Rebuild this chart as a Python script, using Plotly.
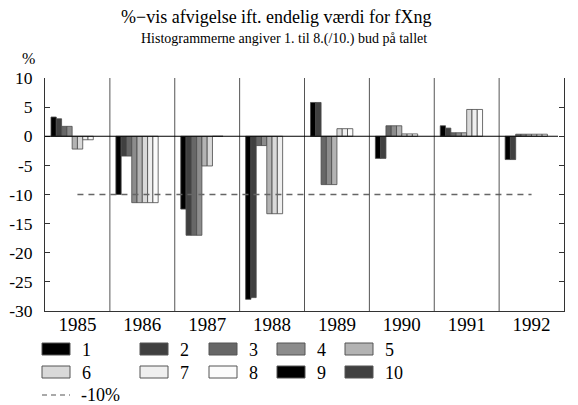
import plotly.graph_objects as go

# ---------------- data ----------------
years = ['1985', '1986', '1987', '1988', '1989', '1990', '1991', '1992']
bud1 = [3.3, -10.0, -12.5, -28.0, 5.8, -3.8, 1.8, -4.0]
bud2 = [3.0, -3.4, -17.0, -27.7, 5.8, -3.8, 1.4, -4.0]
bud3 = [1.7, -3.4, -17.0, -1.6, -8.3, 1.8, 0.6, 0.35]
bud4 = [1.7, -11.4, -17.0, -1.6, -8.3, 1.8, 0.6, 0.35]
bud5 = [-2.2, -11.4, -5.1, -13.3, -8.3, 1.8, 0.6, 0.35]
bud6 = [-2.2, -11.4, -5.1, -13.3, 1.3, 0.4, 4.6, 0.35]
bud7 = [-0.6, -11.4, 0.0, -13.3, 1.3, 0.4, 4.6, 0.35]
bud8 = [-0.6, -11.4, 0.0, None, 1.3, 0.4, 4.6, 0.35]
bud9 = [None, None, None, None, None, None, None, None]
bud10 = [None, None, None, None, None, None, None, None]
series_names = ['1', '2', '3', '4', '5', '6', '7', '8', '9', '10']
reference_level = -10
reference_name = '-10%'
y_tickvals = [10, 5, 0, -5, -10, -15, -20, -25, -30]
y_ticktext = ['10', '5', '0', '-5', '-10', '-15', '-20', '-25', '-30']

title_text = '%\u2212vis afvigelse ift. endelig værdi for fXng'
subtitle_text = 'Histogrammerne angiver 1. til 8.(/10.) bud på tallet'

# ---------------- styles ----------------
colors = ['#000000', '#404040', '#676767', '#8c8c8c', '#b3b3b3',
          '#d9d9d9', '#efefef', '#fbfbfb', '#000000', '#404040']
FONT = 'Liberation Serif, Times New Roman, serif'
OFF = 8                      # page body margin offset
W, H = 578 - OFF, 405 - OFF  # figure size
L, R, T, B = 45 - OFF, 14, 78 - OFF, 94
PW, PH = W - L - R, H - T - B
BARGAP = 0.185


def px2x(px):
    """screen pixel x -> paper x"""
    return (px - OFF - L) / PW


def px2y(py):
    """screen pixel y -> paper y"""
    return (H - B - (py - OFF)) / PH


all_series = [bud1, bud2, bud3, bud4, bud5, bud6, bud7, bud8, bud9, bud10]

fig = go.Figure()
for name, vals, col in zip(series_names, all_series, colors):
    fig.add_trace(go.Bar(
        x=years, y=vals, name=name,
        marker=dict(color=col, line=dict(color='#4a4a4a', width=0.8)),
        showlegend=False,
    ))

fig.add_trace(go.Scatter(
    x=[years[0], years[-1]], y=[reference_level, reference_level],
    mode='lines', name=reference_name,
    line=dict(color='#666666', width=1.6, dash='6px,5px'),
    showlegend=False,
))

shapes = []
# separators between years
for i in range(len(years) - 1):
    shapes.append(dict(type='line', xref='x', yref='y',
                       x0=i + 0.5, x1=i + 0.5, y0=-30, y1=10,
                       line=dict(color='#555555', width=1)))
# zero line
shapes.append(dict(type='line', xref='x', yref='y',
                   x0=-0.5, x1=len(years) - 0.5 - BARGAP / 2, y0=0, y1=0,
                   line=dict(color='#000000', width=1)))

annotations = [
    dict(text=title_text, xref='paper', yref='paper', x=px2x(276), y=px2y(17),
         xanchor='center', yanchor='middle', showarrow=False,
         font=dict(family=FONT, size=18, color='#000')),
    dict(text=subtitle_text, xref='paper', yref='paper', x=px2x(284), y=px2y(39),
         xanchor='center', yanchor='middle', showarrow=False,
         font=dict(family=FONT, size=14, color='#000')),
    dict(text='%', xref='paper', yref='paper', x=px2x(20), y=px2y(58),
         xanchor='left', yanchor='middle', showarrow=False,
         font=dict(family=FONT, size=16, color='#000')),
]

# manual legend
col_x = [42, 140, 209, 277, 345]
row_y = [349, 372]
sw_w, sw_h = 28, 12
for i, (name, col) in enumerate(zip(series_names, colors)):
    cx = col_x[i % 5]
    cy = row_y[i // 5]
    shapes.append(dict(type='rect', xref='paper', yref='paper',
                       x0=px2x(cx), x1=px2x(cx + sw_w),
                       y0=px2y(cy - sw_h / 2), y1=px2y(cy + sw_h / 2),
                       fillcolor=col, line=dict(color='#555555', width=1)))
    annotations.append(dict(text=name, xref='paper', yref='paper',
                            x=px2x(cx + 38), y=px2y(cy + 1),
                            xanchor='left', yanchor='middle', showarrow=False,
                            font=dict(family=FONT, size=18, color='#000')))
shapes.append(dict(type='line', xref='paper', yref='paper',
                   x0=px2x(42), x1=px2x(70), y0=px2y(395), y1=px2y(395),
                   line=dict(color='#555555', width=1.2, dash='5px,4px')))
annotations.append(dict(text=reference_name, xref='paper', yref='paper',
                        x=px2x(79), y=px2y(395),
                        xanchor='left', yanchor='middle', showarrow=False,
                        font=dict(family=FONT, size=18, color='#000')))

fig.update_layout(
    width=W, height=H,
    margin=dict(l=L, r=R, t=T, b=B, pad=0),
    paper_bgcolor='white', plot_bgcolor='white',
    barmode='group', bargap=BARGAP, bargroupgap=0,
    font=dict(family=FONT, color='#000'),
    shapes=shapes, annotations=annotations,
    showlegend=False,
    xaxis=dict(type='category', showline=True, linecolor='#333333', linewidth=1,
               mirror=False, ticks='', showgrid=False, zeroline=False,
               ticklabelstandoff=-4, automargin=False,
               tickfont=dict(family=FONT, size=19, color='#000'),
               range=[-0.5, len(years) - 0.5]),
    yaxis=dict(range=[-30, 10], tickvals=y_tickvals, ticktext=y_ticktext,
               showline=True, linecolor='#333333', linewidth=1, mirror='ticks',
               ticks='inside', ticklen=5, tickcolor='#333333',
               showgrid=False, zeroline=False, ticklabelstandoff=8,
               automargin=False,
               tickfont=dict(family=FONT, size=17.5, color='#000')),
)

fig.write_html('out.html')
